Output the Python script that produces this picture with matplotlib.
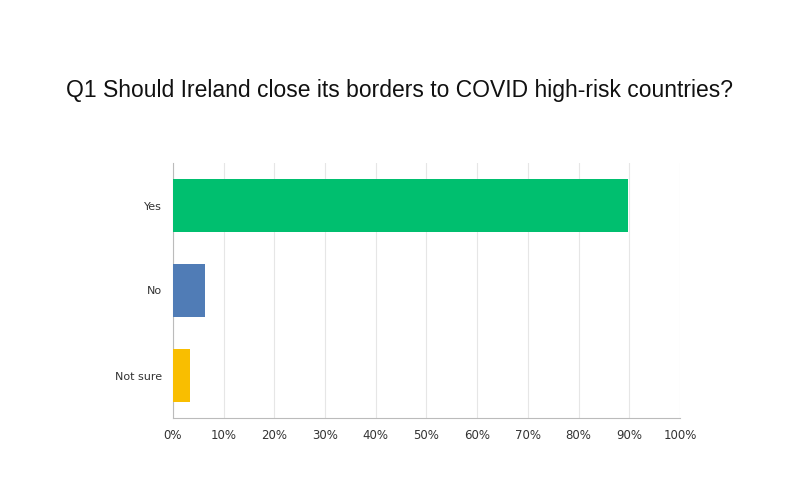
import matplotlib
matplotlib.use("Agg")
import matplotlib.pyplot as plt

categories = ["Yes", "No", "Not sure"]
values = [89.7, 6.3, 3.4]
colors = ["#00BF6F", "#507CB6", "#F9BE00"]
xticks = list(range(0, 101, 10))
xlabels = [f"{t}%" for t in xticks]

fig = plt.figure(figsize=(8, 5), dpi=100)
ax = fig.add_axes([0.216, 0.164, 0.634, 0.51])
ypos = list(range(len(categories)))[::-1]
ax.barh(ypos, values, height=0.62, color=colors, zorder=3)
ax.set_ylim(-0.5, 2.5)
ax.set_xlim(0, 100)
ax.set_yticks(ypos)
ax.set_yticklabels(categories, fontsize=8, color="#333333")
ax.set_xticks(xticks)
ax.set_xticklabels(xlabels, fontsize=8.5, color="#333333")
ax.tick_params(length=0, pad=8)
ax.grid(axis="x", color="#e6e6e6", linewidth=0.8, zorder=0)
for s in ["top", "right"]:
    ax.spines[s].set_visible(False)
for s in ["left", "bottom"]:
    ax.spines[s].set_color("#bbbbbb")
fig.text(0.5, 0.82, "Q1 Should Ireland close its borders to COVID high-risk countries?",
         ha="center", va="center", fontsize=16.5, color="#111111", family="Liberation Sans")
fig.savefig("out.png", dpi=100)
